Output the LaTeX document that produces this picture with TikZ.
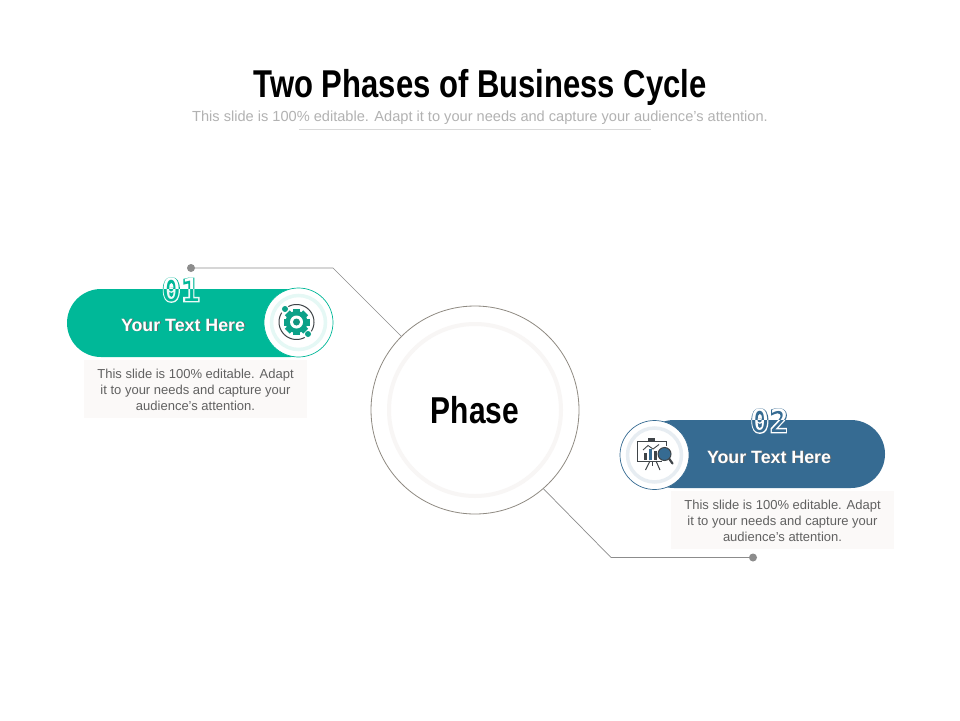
\documentclass[tikz,border=0pt]{standalone}
\usepackage{fontspec}
\setmainfont{Liberation Sans}
\newfontfamily\narrowf[FakeStretch=0.8]{Liberation Sans}
\newfontfamily\numthin{DejaVu Sans Mono}
\newfontfamily\numthick[FakeBold=5]{DejaVu Sans Mono Bold}
\definecolor{teal1}{HTML}{00B898}
\definecolor{blue1}{HTML}{366B92}
\definecolor{ink}{HTML}{3F4448}
\definecolor{gline}{HTML}{8C8C8C}
\definecolor{paper}{HTML}{FBF9F8}
\definecolor{ringout}{HTML}{8F8A82}
\definecolor{ringin}{HTML}{F8F6F5}
\tikzset{
  x=1pt,y=-1pt,
  pillshape/.style={rounded corners=34pt,draw=none},
  bodytext/.style={fill=paper,text=black!62,align=center,inner sep=0pt,minimum width=223pt,minimum height=58pt,font=\fontsize{13}{16}\selectfont},
  headtext/.style={text=white,font=\fontsize{17.8}{20}\selectfont\bfseries,inner sep=0pt},
  headshadow/.style={text=black!60,font=\fontsize{17.8}{20}\selectfont\bfseries,inner sep=0pt},
  leader/.style={draw=gline,line width=0.7pt},
  leaderdot/.style={circle,fill=gline,inner sep=0pt,minimum size=8pt},
  iconcircle/.style={circle,fill=white,inner sep=0pt,minimum size=69pt,line width=0.7pt},
  numthickstyle/.style={inner sep=0pt,font=\fontsize{32}{34}\selectfont\numthick},
  numthinstyle/.style={inner sep=0pt,font=\fontsize{32}{34}\selectfont\numthin},
  icl/.style={draw=ink,line width=1pt}
}
\begin{document}
\begin{tikzpicture}
\useasboundingbox (0,0) rectangle (960,720);
\fill[white] (0,0) rectangle (960,720);
% title
\node[inner sep=0pt,font=\fontsize{38.8}{42}\selectfont\narrowf\bfseries] (title) at (480,87) {Two Phases of Business Cycle};
\node[inner sep=0pt,text=black!30,font=\fontsize{14.6}{16}\selectfont] (subtitle) at (480,118) {This slide is 100\% editable. Adapt it to your needs and capture your audience's attention.};
\coordinate (ula) at (299,129);
\coordinate (ulb) at (651,129);
\draw[black!15,line width=0.7pt] (ula) -- (ulb);
% central circle
\node[circle,draw=ringout,line width=0.8pt,fill=white,minimum size=208pt,inner sep=0pt,font=\fontsize{37.4}{40}\selectfont\narrowf\bfseries] (phase) at (475,410) {Phase};
\node[circle,draw=ringin,line width=4pt,minimum size=172pt,inner sep=0pt] (phasering) at (475,410) {};
% leaders
\node[leaderdot] (dota) at (191,268) {};
\coordinate (elba) at (333,268);
\draw[leader] (dota) -- (elba) -- (phase.135);
\node[leaderdot] (dotb) at (753,557.5) {};
\coordinate (elbb) at (611,557.5);
\draw[leader] (dotb) -- (elbb) -- (phase.-49);
% left pill
\fill[teal1,pillshape] (67,289) rectangle (325,357);
\node[bodytext] (boxa) at (195.5,389) {\rule{0pt}{0pt}\\[-4pt]This slide is 100\% editable. Adapt\\it to your needs and capture your\\audience's attention.};
\begin{scope}
  \clip (150,270) rectangle (215,289);
  \node[numthickstyle,text=teal1] (na1) at (181,290) {01};
  \node[numthinstyle,text=white] (na2) at (181,290) {01};
\end{scope}
\begin{scope}
  \clip (150,289) rectangle (215,320);
  \node[numthickstyle,text=white!92!teal1] (na3) at (181,290) {01};
  \node[numthinstyle,text=teal1] (na4) at (181,290) {01};
\end{scope}
\node[headshadow] (hsa) at (184,325.8) {Your Text Here};
\node[headtext] (ha) at (183,325) {Your Text Here};
\node[iconcircle,draw=teal1] (ca) at (298.5,322.5) {};
\node[circle,draw=teal1!10,line width=3.5pt,minimum size=54pt,inner sep=0pt] (cainner) at (298.5,322.5) {};
% gear icon
\begin{scope}[shift={(296.5,322)}]
  \foreach \ang in {0,45,90,135} {
    \fill[teal1!80!ink,rotate=\ang] (-3.5,-13) rectangle (3.5,13);
  }
  \fill[teal1!80!ink] (0,0) circle (11pt);
  \fill[white] (0,0) circle (6.5pt);
  \fill[teal1!70!ink] (0,0) circle (3.5pt);
  \draw[ink,line width=1pt] plot[domain=62:212,samples=30] ({17.5*cos(\x)},{17.5*sin(\x)});
  \draw[ink,line width=1pt] plot[domain=242:392,samples=30] ({17.5*cos(\x)},{17.5*sin(\x)});
  \fill[teal1!80!ink] (-11.5,-13) circle (3pt);
  \fill[teal1!80!ink] (11.5,12) circle (3pt);
\end{scope}
% right pill
\fill[blue1,pillshape] (640,420) rectangle (885,488);
\node[bodytext] (boxb) at (782.5,520) {\rule{0pt}{0pt}\\[-4pt]This slide is 100\% editable. Adapt\\it to your needs and capture your\\audience's attention.};
\begin{scope}
  \clip (740,400) rectangle (800,420);
  \node[numthickstyle,text=blue1] (nb1) at (769.5,421) {02};
  \node[numthinstyle,text=white] (nb2) at (769.5,421) {02};
\end{scope}
\begin{scope}
  \clip (740,420) rectangle (800,450);
  \node[numthickstyle,text=white] (nb3) at (769.5,421) {02};
  \node[numthinstyle,text=blue1] (nb4) at (769.5,421) {02};
\end{scope}
\node[headshadow] (hsb) at (770,457.8) {Your Text Here};
\node[headtext] (hb) at (769,457) {Your Text Here};
\node[iconcircle,draw=blue1] (cb) at (654.5,455) {};
\node[circle,draw=blue1!12,line width=3.5pt,minimum size=54pt,inner sep=0pt] (cbinner) at (654.5,455) {};
% presentation icon
\draw[icl] (648,441) -- (637,441) -- (637,461) -- (662,461);
\draw[icl] (655,441) -- (666,441) -- (666,446);
\draw[icl,fill=ink] (648.5,441) rectangle (654,438.5);
\draw[icl] (650,461) -- (645.5,470);
\draw[icl] (656,461) -- (660,470);
\draw[icl] (652.5,461) -- (652.5,466);
\fill[ink] (643.5,453) rectangle (647,460);
\fill[blue1] (648.5,449) rectangle (652,460);
\fill[ink] (653.5,451) rectangle (657,460);
\draw[ink,line width=0.9pt] (643,450) -- (648,445.5) -- (653,449) -- (659,444.5);
\draw[ink,line width=2.2pt,line cap=round] (669,458.5) -- (672.5,463.5);
\draw[ink,fill=blue1,line width=1pt] (664.5,454) circle (6.5pt);
\end{tikzpicture}
\end{document}
